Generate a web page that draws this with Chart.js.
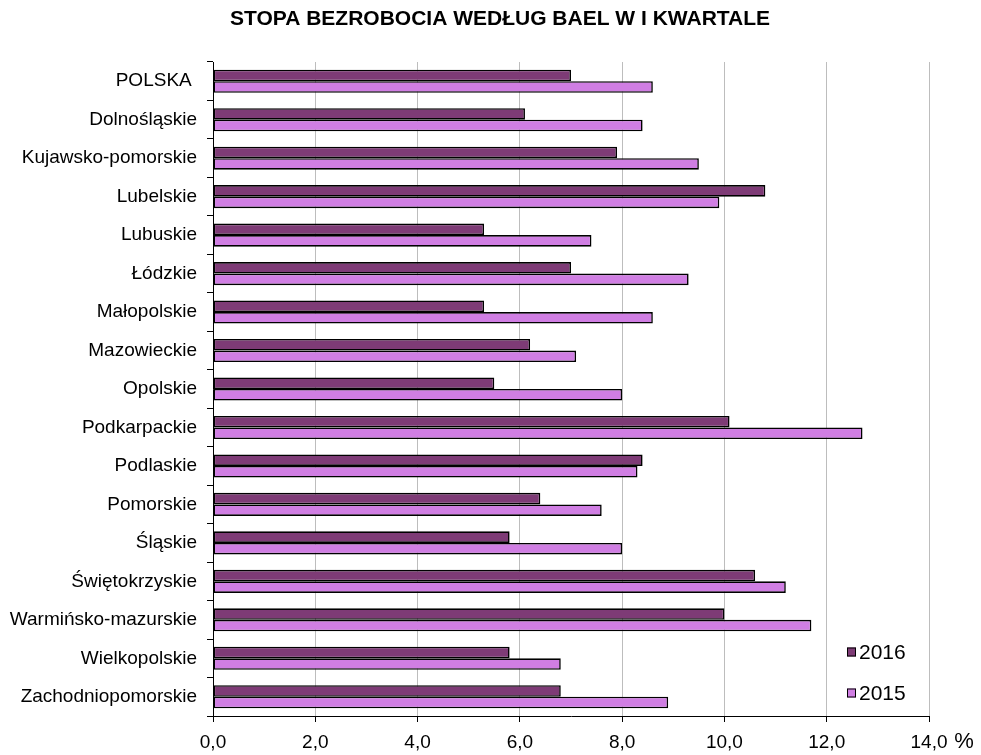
<!DOCTYPE html>
<html><head><meta charset="utf-8">
<script src="https://cdn.jsdelivr.net/npm/chart.js@4.4.0/dist/chart.umd.min.js"></script>
<style>html,body{margin:0;padding:0;background:#fff;} #wrap{width:981px;height:755px;position:relative;}</style>
</head><body><div id="wrap"><canvas id="c" width="981" height="755"></canvas></div>
<script>
const categories = ["POLSKA ", "Dolnośląskie", "Kujawsko-pomorskie", "Lubelskie", "Lubuskie", "Łódzkie", "Małopolskie", "Mazowieckie", "Opolskie", "Podkarpackie", "Podlaskie", "Pomorskie", "Śląskie", "Świętokrzyskie", "Warmińsko-mazurskie", "Wielkopolskie", "Zachodniopomorskie"];
const values2016 = [7.0, 6.1, 7.9, 10.8, 5.3, 7.0, 5.3, 6.2, 5.5, 10.1, 8.4, 6.4, 5.8, 10.6, 10.0, 5.8, 6.8];
const values2015 = [8.6, 8.4, 9.5, 9.9, 7.4, 9.3, 8.6, 7.1, 8.0, 12.7, 8.3, 7.6, 8.0, 11.2, 11.7, 6.8, 8.9];
const seriesLabels = ["2016", "2015"];
const titleText = "STOPA BEZROBOCIA WEDŁUG BAEL W I KWARTALE";
const unitLabel = "%";

const FONT = "'Liberation Sans', Arial, sans-serif";
const colors = ["#7e3b76", "#d07ee3"];

const overlay = {
  id: 'overlay',
  afterDraw(chart) {
    const ctx = chart.ctx;
    ctx.save();
    ctx.fillStyle = '#000';
    ctx.font = "bold 21px " + FONT;
    ctx.textAlign = 'center';
    ctx.textBaseline = 'middle';
    ctx.fillText(titleText, 500, 19);
    ctx.font = "22px " + FONT;
    ctx.fillText(unitLabel, 964, 742);
    const ys = [652, 693];
    chart.data.datasets.forEach((ds, i) => {
      ctx.fillStyle = ds.backgroundColor;
      ctx.fillRect(847, ys[i] - 4.5, 9, 9);
      ctx.strokeStyle = '#000';
      ctx.lineWidth = 1;
      ctx.strokeRect(847.5, ys[i] - 4, 8, 8);
      ctx.fillStyle = '#000';
      ctx.font = "21px " + FONT;
      ctx.textAlign = 'left';
      ctx.fillText(ds.label, 859, ys[i] + 1);
    });
    ctx.restore();
  }
};

new Chart(document.getElementById('c'), {
  type: 'bar',
  data: {
    labels: categories,
    datasets: [
      { label: seriesLabels[0], data: values2016, backgroundColor: colors[0], borderColor: '#000', borderWidth: 1.6, borderSkipped: false },
      { label: seriesLabels[1], data: values2015, backgroundColor: colors[1], borderColor: '#000', borderWidth: 1.6, borderSkipped: false }
    ]
  },
  options: {
    indexAxis: 'y',
    responsive: false,
    animation: false,
    devicePixelRatio: 1,
    layout: { padding: { top: 62, right: 52, left: 0, bottom: 0 } },
    categoryPercentage: 0.6,
    barPercentage: 1.0,
    plugins: { legend: { display: false }, title: { display: false }, tooltip: { enabled: false } },
    scales: {
      x: {
        type: 'linear', position: 'bottom', min: 0, max: 14,
        ticks: { stepSize: 2, color: '#000', font: { family: FONT, size: 19 }, padding: 9,
          callback: v => v.toFixed(1).replace('.', ',') },
        grid: { color: '#bdbdbd', lineWidth: 1, tickColor: '#000', tickLength: 6 },
        border: { color: '#000', width: 1 },
        afterFit: s => { s.height = 39; }
      },
      y: {
        type: 'category', offset: true,
        ticks: { color: '#000', font: { family: FONT, size: 19 }, padding: 10, autoSkip: false },
        grid: { drawOnChartArea: false, offset: true, tickColor: '#000', tickLength: 6 },
        border: { color: '#000', width: 1 },
        afterFit: s => { s.width = 213; }
      }
    }
  },
  plugins: [overlay]
});
</script></body></html>
